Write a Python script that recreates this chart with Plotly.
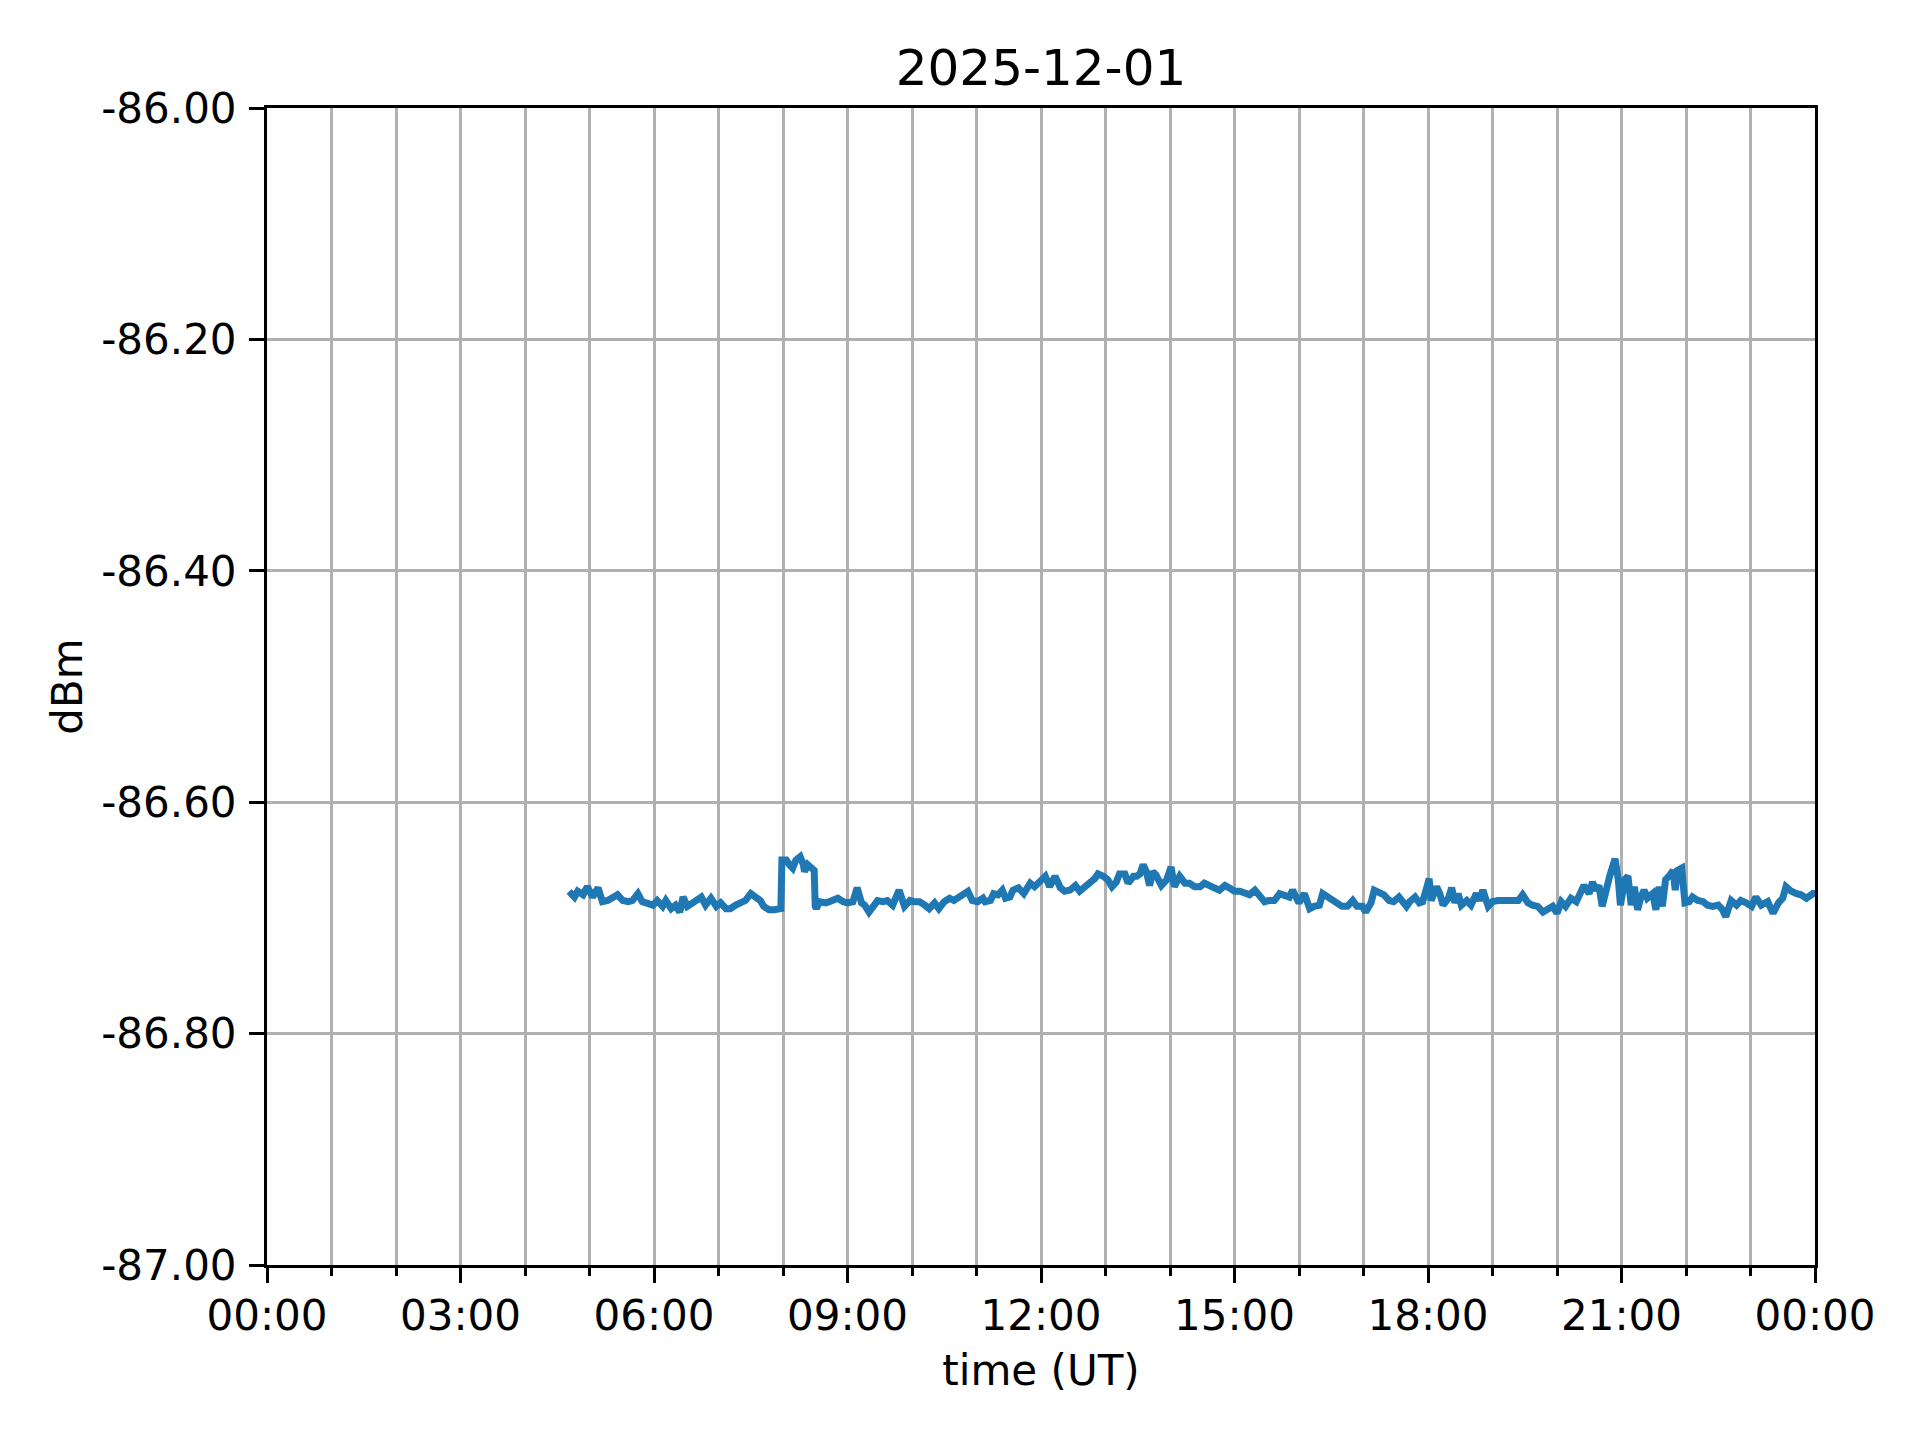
import pandas as pd
import plotly.graph_objects as go

title_text = "2025-12-01"
x_title = "time (UT)"
y_title = "dBm"

# minutes after 00:00 UT on 2025-12-01
minutes = [
    281, 286, 289, 294, 298, 303, 308, 312, 317, 322, 326, 331, 336, 340, 345, 349,
    354, 359, 363, 368, 371, 376, 380, 384, 387, 391, 396, 399, 404, 408, 413, 418,
    422, 427, 431, 436, 441, 445, 450, 455, 459, 462, 467, 472, 475, 478, 479, 483,
    486, 489, 492, 496, 499, 500, 503, 506, 509, 510, 511, 514, 517, 520, 523, 526,
    531, 536, 540, 545, 549, 553, 556, 560, 564, 568, 573, 577, 582, 588, 593, 598,
    602, 607, 612, 616, 621, 625, 630, 635, 639, 644, 649, 652, 656, 661, 666, 668,
    673, 676, 680, 684, 687, 691, 694, 699, 704, 707, 710, 714, 719, 724, 728, 733,
    738, 742, 747, 752, 756, 761, 765, 770, 773, 778, 782, 786, 790, 793, 798, 801,
    806, 809, 812, 815, 818, 821, 824, 827, 832, 837, 841, 844, 849, 854, 858, 863,
    868, 872, 877, 881, 886, 891, 895, 900, 905, 909, 914, 919, 923, 928, 932, 937,
    942, 946, 951, 954, 957, 960, 965, 970, 974, 979, 982, 987, 991, 996, 1000, 1005,
    1010, 1014, 1019, 1022, 1027, 1030, 1035, 1039, 1044, 1048, 1053, 1058, 1060, 1063, 1068, 1072,
    1075, 1080, 1081, 1083, 1088, 1091, 1094, 1099, 1102, 1105, 1108, 1111, 1116, 1120, 1125, 1128,
    1131, 1136, 1140, 1145, 1150, 1154, 1159, 1164, 1168, 1173, 1177, 1182, 1187, 1191, 1196, 1200,
    1204, 1208, 1213, 1218, 1222, 1225, 1230, 1233, 1236, 1239, 1242, 1245, 1249, 1254, 1257, 1259,
    1263, 1266, 1269, 1272, 1275, 1278, 1281, 1284, 1289, 1292, 1295, 1298, 1301, 1305, 1308, 1310,
    1312, 1316, 1319, 1323, 1326, 1331, 1336, 1340, 1345, 1350, 1354, 1357, 1362, 1367, 1371, 1376,
    1381, 1385, 1390, 1396, 1401, 1406, 1410, 1413, 1418, 1423, 1427, 1432, 1435, 1438, 1440,
]

dbm = [
    -86.677, -86.682, -86.677, -86.680, -86.673, -86.682, -86.674, -86.686, -86.685, -86.683, -86.680, -86.685, -86.686, -86.685, -86.679, -86.686,
    -86.687, -86.689, -86.685, -86.690, -86.685, -86.692, -86.689, -86.695, -86.682, -86.690, -86.687, -86.685, -86.682, -86.689, -86.683, -86.690,
    -86.687, -86.692, -86.692, -86.689, -86.686, -86.685, -86.679, -86.683, -86.685, -86.690, -86.693, -86.693, -86.692, -86.692, -86.650, -86.650,
    -86.654, -86.657, -86.650, -86.647, -86.654, -86.660, -86.654, -86.656, -86.659, -86.690, -86.692, -86.686, -86.687, -86.687, -86.686, -86.685,
    -86.683, -86.686, -86.687, -86.686, -86.674, -86.687, -86.689, -86.695, -86.690, -86.685, -86.686, -86.685, -86.689, -86.676, -86.690, -86.685,
    -86.686, -86.686, -86.689, -86.692, -86.687, -86.692, -86.686, -86.683, -86.685, -86.682, -86.680, -86.677, -86.685, -86.686, -86.683, -86.686,
    -86.685, -86.679, -86.680, -86.676, -86.683, -86.682, -86.676, -86.674, -86.679, -86.673, -86.670, -86.673, -86.669, -86.664, -86.673, -86.664,
    -86.674, -86.677, -86.676, -86.672, -86.677, -86.672, -86.670, -86.666, -86.662, -86.664, -86.667, -86.673, -86.669, -86.662, -86.662, -86.670,
    -86.664, -86.664, -86.662, -86.654, -86.660, -86.672, -86.660, -86.663, -86.672, -86.667, -86.656, -86.673, -86.664, -86.670, -86.670, -86.673,
    -86.673, -86.670, -86.673, -86.674, -86.676, -86.672, -86.674, -86.677, -86.677, -86.679, -86.680, -86.676, -86.680, -86.686, -86.685, -86.685,
    -86.679, -86.680, -86.682, -86.676, -86.683, -86.687, -86.679, -86.692, -86.690, -86.689, -86.679, -86.682, -86.685, -86.689, -86.690, -86.690,
    -86.685, -86.690, -86.690, -86.695, -86.687, -86.676, -86.679, -86.680, -86.685, -86.686, -86.682, -86.689, -86.690, -86.686, -86.682, -86.687,
    -86.686, -86.670, -86.666, -86.685, -86.673, -86.679, -86.689, -86.683, -86.674, -86.687, -86.679, -86.689, -86.685, -86.689, -86.679, -86.685,
    -86.676, -86.690, -86.686, -86.685, -86.685, -86.685, -86.686, -86.685, -86.680, -86.687, -86.689, -86.690, -86.695, -86.693, -86.690, -86.696,
    -86.686, -86.690, -86.683, -86.686, -86.679, -86.672, -86.679, -86.669, -86.676, -86.672, -86.690, -86.676, -86.664, -86.649, -86.667, -86.689,
    -86.667, -86.664, -86.689, -86.673, -86.693, -86.682, -86.676, -86.683, -86.679, -86.693, -86.673, -86.690, -86.667, -86.663, -86.659, -86.676,
    -86.659, -86.657, -86.687, -86.686, -86.682, -86.685, -86.686, -86.689, -86.690, -86.689, -86.693, -86.699, -86.685, -86.689, -86.685, -86.687,
    -86.690, -86.682, -86.689, -86.686, -86.696, -86.687, -86.683, -86.673, -86.677, -86.679, -86.680, -86.683, -86.680, -86.679, -86.679,
]

y_tick_values = [-87.0, -86.8, -86.6, -86.4, -86.2, -86.0]
y_tick_labels = ["-87.00", "-86.80", "-86.60", "-86.40", "-86.20", "-86.00"]

day_start = pd.Timestamp("2025-12-01 00:00")
day_end = pd.Timestamp("2025-12-02 00:00")
times = [day_start + pd.Timedelta(minutes=m) for m in minutes]

FONT = "DejaVu Sans"
GRID = "#b0b0b0"
W, H = 1912, 1432

fig = go.Figure()
fig.add_trace(go.Scatter(
    x=times, y=dbm, mode="lines",
    line=dict(color="#1f77b4", width=7),
    showlegend=False,
))

fig.update_layout(
    width=W, height=H,
    paper_bgcolor="white", plot_bgcolor="white",
    margin=dict(l=259, r=105, t=100, b=175),
    font=dict(family=FONT, size=42, color="black"),
    title=dict(text=title_text, x=0.5, xref="paper", xanchor="center",
               y=1 - 59 / H, yref="container", yanchor="middle",
               font=dict(family=FONT, size=50, color="black")),
)

fig.update_xaxes(
    type="date",
    range=[day_start, day_end],
    tickmode="linear", tick0=day_start, dtick=3 * 3600 * 1000,
    tickformat="%H:%M",
    ticks="outside", ticklen=15, tickwidth=3, tickcolor="black",
    ticklabelstandoff=-3,
    showgrid=True, gridcolor=GRID, gridwidth=3,
    minor=dict(tickmode="linear", tick0=day_start, dtick=3600 * 1000,
               ticks="outside", ticklen=8, tickwidth=2.5, tickcolor="black",
               showgrid=True, gridcolor=GRID, gridwidth=3),
    showline=True, linecolor="black", linewidth=3, mirror=True,
    zeroline=False,
    tickfont=dict(family=FONT, size=42, color="black"),
    title=dict(text=x_title, standoff=17, font=dict(family=FONT, size=42, color="black")),
)

fig.update_yaxes(
    range=[-87.0, -86.0],
    tickmode="array", tickvals=y_tick_values, ticktext=y_tick_labels,
    ticks="outside", ticklen=15, tickwidth=3, tickcolor="black",
    ticklabelstandoff=4,
    showgrid=True, gridcolor=GRID, gridwidth=3,
    showline=True, linecolor="black", linewidth=3, mirror=True,
    zeroline=False,
    tickfont=dict(family=FONT, size=42, color="black"),
    title=dict(text=y_title, standoff=6, font=dict(family=FONT, size=42, color="black")),
)

fig.write_html("out.html")
